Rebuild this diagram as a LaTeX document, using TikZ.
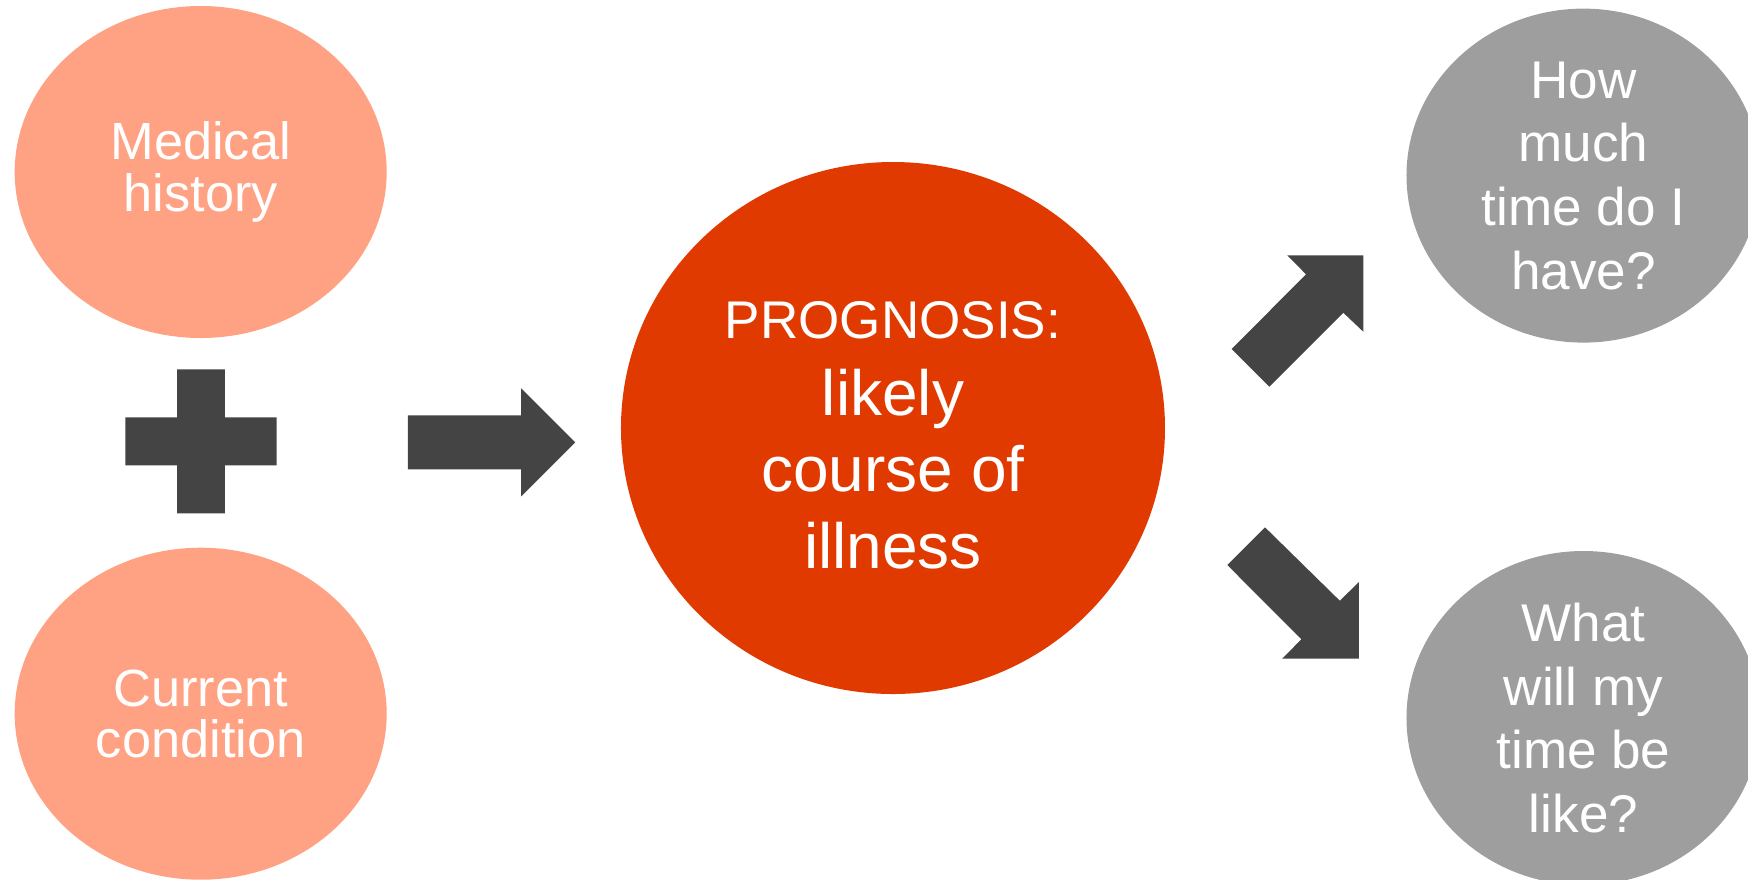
\documentclass[tikz,border=0pt]{standalone}
\usepackage{fontspec}
\setmainfont{Liberation Sans}
\usepackage{tikz}
\usetikzlibrary{positioning,shapes.geometric}
\usepackage{xcolor}
\definecolor{salmon}{HTML}{FFA284}
\definecolor{rust}{HTML}{E03A00}
\definecolor{ash}{HTML}{9E9E9E}
\definecolor{charcoal}{HTML}{444444}

\begin{document}
\begin{tikzpicture}[
    causeBubble/.style={ellipse, fill=salmon, text=white, inner sep=0pt, outer sep=0pt, minimum width=3.72cm, minimum height=3.32cm, align=center, font=\fontsize{14.9}{14.6}\selectfont},
    questionBubble/.style={ellipse, fill=ash, text=white, inner sep=0pt, outer sep=0pt, minimum width=3.54cm, minimum height=3.34cm, align=center, font=\fontsize{15.1}{18.1}\selectfont},
    prognosisDisc/.style={ellipse, fill=rust, text=white, inner sep=0pt, outer sep=0pt, minimum width=5.44cm, minimum height=5.32cm, align=center, font=\fontsize{18.2}{21.8}\selectfont},
    blockShape/.style={fill=charcoal, draw=none}
]
    \useasboundingbox (-8.93,4.28) rectangle (8.55,-4.51);
    \clip (-8.93,4.28) rectangle (8.55,-4.51);

    % Left: the two inputs
    \node[causeBubble] (hist) at (-6.923, 2.56) {Medical\\history};
    \node[causeBubble] (cond) at (-6.923, -2.857) {Current\\condition};

    % Plus sign between the inputs
    \fill[blockShape] (-7.158,0.587) -- (-6.680,0.587) -- (-6.680,0.107) -- (-6.163,0.107)
        -- (-6.163,-0.373) -- (-6.680,-0.373) -- (-6.680,-0.853) -- (-7.158,-0.853)
        -- (-7.158,-0.373) -- (-7.675,-0.373) -- (-7.675,0.107) -- (-7.158,0.107) -- cycle;

    % Centre: prognosis (strut on first line drops the text a little)
    \node[prognosisDisc] (prog) at (0,0) {{\fontsize{15.1}{21.8}\selectfont\rule{0pt}{14.6pt}PROGNOSIS:}\\likely\\course of\\illness};

    % Arrow into the prognosis
    \fill[blockShape] (-4.850,0.127) -- (-3.718,0.127) -- (-3.718,0.397) -- (-3.178,-0.143)
        -- (-3.718,-0.683) -- (-3.718,-0.413) -- (-4.850,-0.413) -- cycle;

    % Right: the two questions
    \node[questionBubble] (howmuch) at (6.905, 2.524) {How\\much\\time do I\\have?};
    \node[questionBubble] (whatlike) at (6.905, -2.90) {What\\will my\\time be\\like?};

    % Diagonal arrows out of the prognosis
    \fill[blockShape] (3.387,0.790) -- (4.130,1.537) -- (3.943,1.727) -- (4.703,1.727)
        -- (4.703,0.963) -- (4.503,1.153) -- (3.763,0.413) -- cycle;
    \fill[blockShape] (3.343,-1.370) -- (3.720,-0.993) -- (4.468,-1.727) -- (4.660,-1.540)
        -- (4.660,-2.307) -- (3.891,-2.307) -- (4.084,-2.113) -- cycle;
\end{tikzpicture}
\end{document}
